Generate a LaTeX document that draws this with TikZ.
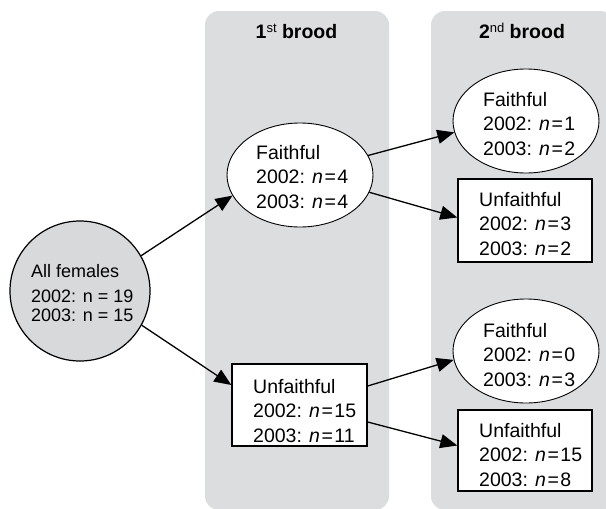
\documentclass[tikz,border=0pt]{standalone}
\usepackage{fontspec}
\setmainfont{Liberation Sans}
\usetikzlibrary{shapes.geometric,arrows.meta}
\definecolor{panelgray}{HTML}{DCDDDF}
\definecolor{circgray}{HTML}{D8D9DB}
\begin{document}
\begin{tikzpicture}[x=1pt,y=-1pt,
  panel/.style={fill=panelgray, draw=none, rounded corners=14pt},
  ell/.style={ellipse, draw=black, fill=white, line width=0.9pt, minimum width=146pt, minimum height=104pt, inner sep=0pt},
  sqbox/.style={rectangle, draw=black, fill=white, line width=1.4pt, minimum width=135pt, minimum height=82pt, inner sep=0pt},
  lbl/.style={anchor=base west, align=left, inner sep=0pt, font=\fontsize{19.5}{24.5}\selectfont},
  ttl/.style={anchor=base, inner sep=0pt, font=\fontsize{19.5}{24}\selectfont\bfseries},
  arr/.style={line width=1.3pt, -{Triangle[length=17pt,width=14pt]}}]
\clip (0,0) rectangle (606,509);
\fill[white] (0,0) rectangle (606,509);
% panels
\fill[panel] (205,11) rectangle (389,510);
\fill[panel] (431,11) rectangle (614,510);
\node[ttl] (t1) at (296.5,38) {1\raisebox{6pt}{\fontsize{13}{13}\selectfont\mdseries st} brood};
\node[ttl] (t2) at (522,38) {2\raisebox{6pt}{\fontsize{13}{13}\selectfont\mdseries nd} brood};
% shapes
\node[circle, draw=black, fill=circgray, line width=1.2pt, minimum size=140pt, inner sep=0pt] (c) at (80,291) {};
\node[ell] (f1) at (300,175) {};
\node[sqbox] (u1) at (299.5,405) {};
\node[ell] (f2) at (526,121) {};
\node[sqbox, minimum width=134pt, minimum height=83pt] (u2) at (525,220.5) {};
\node[ell] (f3) at (526,351) {};
\node[sqbox, minimum width=134pt, minimum height=81pt] (u3) at (525,450.5) {};
% texts (anchored at the baseline of the last line)
\node[lbl, font=\fontsize{18}{24}\selectfont] (ct) at (31,321) {All females\\[1pt]2002: n = 19\\[-5pt]2003: n = 15};
\node[lbl] (f1t) at (256,208) {Faithful\\2002: \textit{n}\kern1.5pt=\kern1.5pt4\\2003: \textit{n}\kern1.5pt=\kern1.5pt4};
\node[lbl] (u1t) at (253,442) {Unfaithful\\2002: \textit{n}\kern1.5pt=\kern1.5pt15\\2003: \textit{n}\kern1.5pt=\kern1.5pt11};
\node[lbl] (f2t) at (483,155) {Faithful\\2002: \textit{n}\kern1.5pt=\kern1.5pt1\\2003: \textit{n}\kern1.5pt=\kern1.5pt2};
\node[lbl] (u2t) at (479,255) {Unfaithful\\2002: \textit{n}\kern1.5pt=\kern1.5pt3\\2003: \textit{n}\kern1.5pt=\kern1.5pt2};
\node[lbl] (f3t) at (483,386) {Faithful\\2002: \textit{n}\kern1.5pt=\kern1.5pt0\\2003: \textit{n}\kern1.5pt=\kern1.5pt3};
\node[lbl] (u3t) at (479,486) {Unfaithful\\2002: \textit{n}\kern1.5pt=\kern1.5pt15\\2003: \textit{n}\kern1.5pt=\kern1.5pt8};
% arrows
\draw[arr] (c.30) -- (f1.197);
\draw[arr] (c.-29) -- ([yshift=20pt]u1.west);
\draw[arr] (f1.16) -- (f2.189);
\draw[arr] (f1.-14) -- ([yshift=3pt]u2.west);
\draw[arr] ([yshift=19pt]u1.east) -- (f3.187);
\draw[arr] ([yshift=-17pt]u1.east) -- ([yshift=5pt]u3.west);
\end{tikzpicture}
\end{document}
